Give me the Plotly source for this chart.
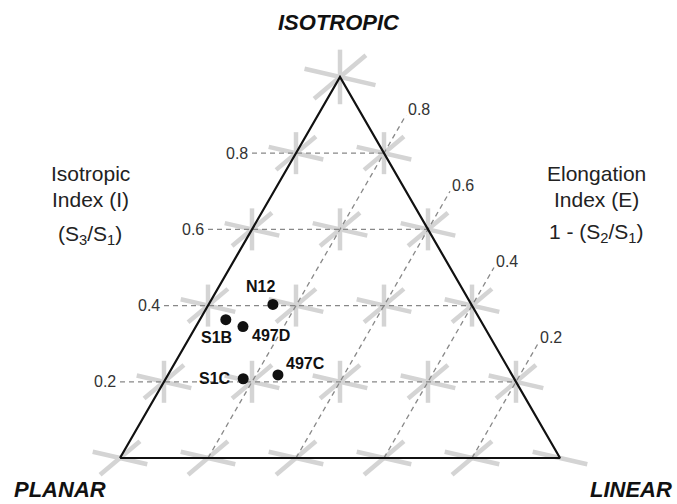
import math
import plotly.graph_objects as go

# ---------------- data ----------------
grid_levels = [0.0, 0.2, 0.4, 0.6, 0.8, 1.0]
i_ticks = [0.2, 0.4, 0.6, 0.8]
e_ticks = [0.2, 0.4, 0.6, 0.8]
tick_labels = ["0.2", "0.4", "0.6", "0.8"]

sample_names = ["N12", "S1B", "497D", "S1C", "497C"]
isotropic_idx = [0.403, 0.363, 0.345, 0.208, 0.218]   # I = S3/S1
elongation_idx = [0.854, 0.941, 0.893, 0.824, 0.750]  # E = 1 - S2/S1

# ---------------- geometry helpers ----------------
H = math.sqrt(3) / 2
PX = 1 / 440.0  # one screen pixel in data units


def to_xy(i, e):
    return 1 - e + i / 2, i * H


def sx_(p):  # screen x pixel -> data x
    return (p - 120) * PX


def sy_(p):  # screen y pixel -> data y
    return (458 - p) * PX


FONT = "Liberation Sans, Arial, sans-serif"
fig = go.Figure()

# asterisk tick marks at grid nodes
ax, ay = [], []


def seg(cx, cy, ang_deg, half):
    a = math.radians(ang_deg)
    dx, dy = math.cos(a) * half * PX, math.sin(a) * half * PX
    ax.extend([cx - dx, cx + dx, None])
    ay.extend([cy - dy, cy + dy, None])


for i in grid_levels:
    for e in grid_levels:
        if e < i - 1e-9:
            continue
        cx, cy = to_xy(i, e)
        k = 1.3 if i > 0.99 else 1.0
        if i == 0 and e == 0:
            seg(cx, cy, -13, 28)
            continue
        seg(cx, cy, -13, 28 * k)
        seg(cx, cy, 40, 26 * k)
        if i > 0:
            seg(cx, cy, 90, 21 * k)

fig.add_trace(go.Scatter(x=ax, y=ay, mode="lines",
                         line=dict(color="#d4d4d4", width=4.5),
                         hoverinfo="skip", showlegend=False))

# dashed isotropic-index lines
dx_, dy_ = [], []
for i in i_ticks:
    x0 = i / 2 - 0.1
    x1, y1 = to_xy(i, i)
    dx_.extend([x0, x1, None])
    dy_.extend([y1, y1, None])
# dashed elongation-index lines
for e in e_ticks:
    xa, ya = to_xy(0, e)
    xb, yb = to_xy(e + 0.1, e)
    dx_.extend([xa, xb, None])
    dy_.extend([ya, yb, None])
fig.add_trace(go.Scatter(x=dx_, y=dy_, mode="lines",
                         line=dict(color="#888888", width=1.3, dash="5px,4px"),
                         hoverinfo="skip", showlegend=False))

# triangle outline
tx, ty = zip(*[to_xy(0, 1), to_xy(0, 0), to_xy(1, 1), to_xy(0, 1)])
fig.add_trace(go.Scatter(x=list(tx), y=list(ty), mode="lines",
                         line=dict(color="#111111", width=2.2),
                         hoverinfo="skip", showlegend=False))

# sample points
px_, py_ = zip(*[to_xy(i, e) for i, e in zip(isotropic_idx, elongation_idx)])
fig.add_trace(go.Scatter(x=list(px_), y=list(py_), mode="markers",
                         marker=dict(color="#111111", size=11),
                         hoverinfo="skip", showlegend=False))

annotations = []
# sample labels (offsets in px)
label_offsets = {
    "N12": (-12, 18, "center", "middle"),
    "S1B": (-9, -18, "center", "middle"),
    "497D": (7, -9, "left", "middle"),
    "S1C": (-10, 0, "right", "middle"),
    "497C": (6, 11, "left", "middle"),
}
for n, x, y in zip(sample_names, px_, py_):
    ox, oy, xa, ya = label_offsets[n]
    annotations.append(dict(x=x, y=y, xref="x", yref="y", text="<b>" + n + "</b>",
                            showarrow=False, xshift=ox, yshift=oy,
                            xanchor=xa, yanchor=ya,
                            font=dict(family=FONT, size=16, color="#111111")))

# isotropic tick labels
for i, t in zip(i_ticks, tick_labels):
    annotations.append(dict(x=i / 2 - 0.1, y=i * H, xref="x", yref="y", text=t,
                            showarrow=False, xanchor="right", yanchor="middle",
                            xshift=-2, font=dict(family=FONT, size=16, color="#333333")))
# elongation tick labels
for e, t in zip(e_ticks, tick_labels):
    xb, yb = to_xy(e + 0.1, e)
    annotations.append(dict(x=xb, y=yb, xref="x", yref="y", text=t,
                            showarrow=False, xanchor="left", yanchor="middle",
                            xshift=0, yshift=6, font=dict(family=FONT, size=16, color="#333333")))

# side titles
side_font = dict(family=FONT, size=21, color="#222222")
side_lines = [
    ("Isotropic", 90, 173),
    ("Index (I)", 90, 199),
    ("(S<sub>3</sub>/S<sub>1</sub>)", 90, 235),
    ("Elongation", 596, 173),
    ("Index (E)", 596, 199),
    ("1 - (S<sub>2</sub>/S<sub>1</sub>)", 596, 233),
]
for txt, xp, yp in side_lines:
    annotations.append(dict(x=sx_(xp), y=sy_(yp), xref="x", yref="y", text=txt,
                            showarrow=False, font=side_font,
                            xanchor="center", yanchor="middle"))

# corner titles
corner_font = dict(family=FONT, size=22, color="#111111")
corner_titles = [
    ("<b><i>ISOTROPIC</i></b>", 339, 22, "center"),
    ("<b><i>PLANAR</i></b>", 12, 489, "left"),
    ("<b><i>LINEAR</i></b>", 674, 489, "right"),
]
for txt, xp, yp, anc in corner_titles:
    annotations.append(dict(x=sx_(xp), y=sy_(yp), xref="x", yref="y", text=txt,
                            showarrow=False, font=corner_font,
                            xanchor=anc, yanchor="middle"))

fig.update_layout(
    width=677, height=504,
    margin=dict(l=0, r=0, t=0, b=0, pad=0),
    paper_bgcolor="white", plot_bgcolor="white",
    xaxis=dict(range=[sx_(0), sx_(677)], visible=False, fixedrange=True),
    yaxis=dict(range=[sy_(504), sy_(0)], visible=False, fixedrange=True),
    annotations=annotations,
    showlegend=False,
    hovermode=False,
)

fig.write_html(
    "out.html",
    config={"displayModeBar": False, "staticPlot": True},
    post_script="document.body.style.margin='0';document.body.style.overflow='hidden';",
)
